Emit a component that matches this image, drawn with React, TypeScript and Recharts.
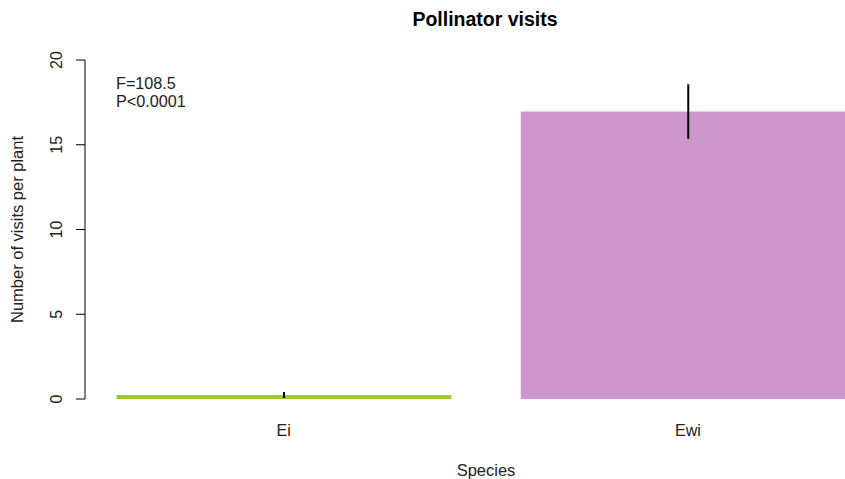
import React from 'react';
import { BarChart, Bar, XAxis, YAxis, ErrorBar, Cell, Customized } from 'recharts';

const categories = ['Ei', 'Ewi'];
const meanVisits = [0.24, 16.96];
const seVisits = [0.18, 1.61];
const barColors = ['#9ACD32', '#CD96CD'];
const yTicks = [0, 5, 10, 15, 20];
const titleText = 'Pollinator visits';
const xLabel = 'Species';
const yLabel = 'Number of visits per plant';
const statLines = ['F=108.5', 'P<0.0001'];

const data = categories.map((c, i) => ({ name: c, value: meanVisits[i], err: seVisits[i] }));

const FONT = '"Liberation Sans", Arial, Helvetica, sans-serif';

const YTick = (props: any) => {
  const { y, payload } = props;
  return (
    <text x={62} y={y} transform={`rotate(-90, 62, ${y})`} textAnchor="middle" fontSize={16} fill="#222" fontFamily={FONT}>
      {payload.value}
    </text>
  );
};

const XTick = (props: any) => {
  const { x, payload } = props;
  return (
    <text x={x} y={436} textAnchor="middle" fontSize={16} fill="#222" fontFamily={FONT}>
      {payload.value}
    </text>
  );
};

const Annotations = () => (
  <g fontFamily={FONT}>
    <text x={485} y={26} textAnchor="middle" fontSize={19.5} fontWeight="bold" fill="#000">{titleText}</text>
    <text x={486} y={476} textAnchor="middle" fontSize={16.5} fill="#222">{xLabel}</text>
    <text x={23} y={229.5} transform="rotate(-90, 23, 229.5)" textAnchor="middle" fontSize={16.5} fill="#222">{yLabel}</text>
    <text x={116} y={89} fontSize={16.2} fill="#222">{statLines[0]}</text>
    <text x={116} y={106.5} fontSize={16.2} fill="#222">{statLines[1]}</text>
  </g>
);

export default function App() {
  return (
    <div style={{ position: 'absolute', left: 0, top: 0, width: 845, height: 479, overflow: 'hidden', background: '#fff' }}>
      <BarChart width={890} height={479} data={data} margin={{ top: 60, right: 0, bottom: 0, left: 0 }}>
        <XAxis
          dataKey="name"
          height={80}
          axisLine={false}
          tickLine={false}
          tick={<XTick />}
          padding={{ left: -3.5, right: 0 }}
        />
        <YAxis
          width={85}
          domain={[0, 20]}
          ticks={yTicks}
          tickSize={9}
          axisLine={{ stroke: '#000', strokeWidth: 1 }}
          tickLine={{ stroke: '#000', strokeWidth: 1 }}
          tick={<YTick />}
          allowDataOverflow
        />
        <Bar dataKey="value" barSize={335} isAnimationActive={false}>
          {data.map((d, i) => (
            <Cell key={d.name} fill={barColors[i]} />
          ))}
          <ErrorBar dataKey="err" width={0} stroke="#000" strokeWidth={2} direction="y" isAnimationActive={false} />
        </Bar>
        <Customized component={Annotations} />
      </BarChart>
    </div>
  );
}
